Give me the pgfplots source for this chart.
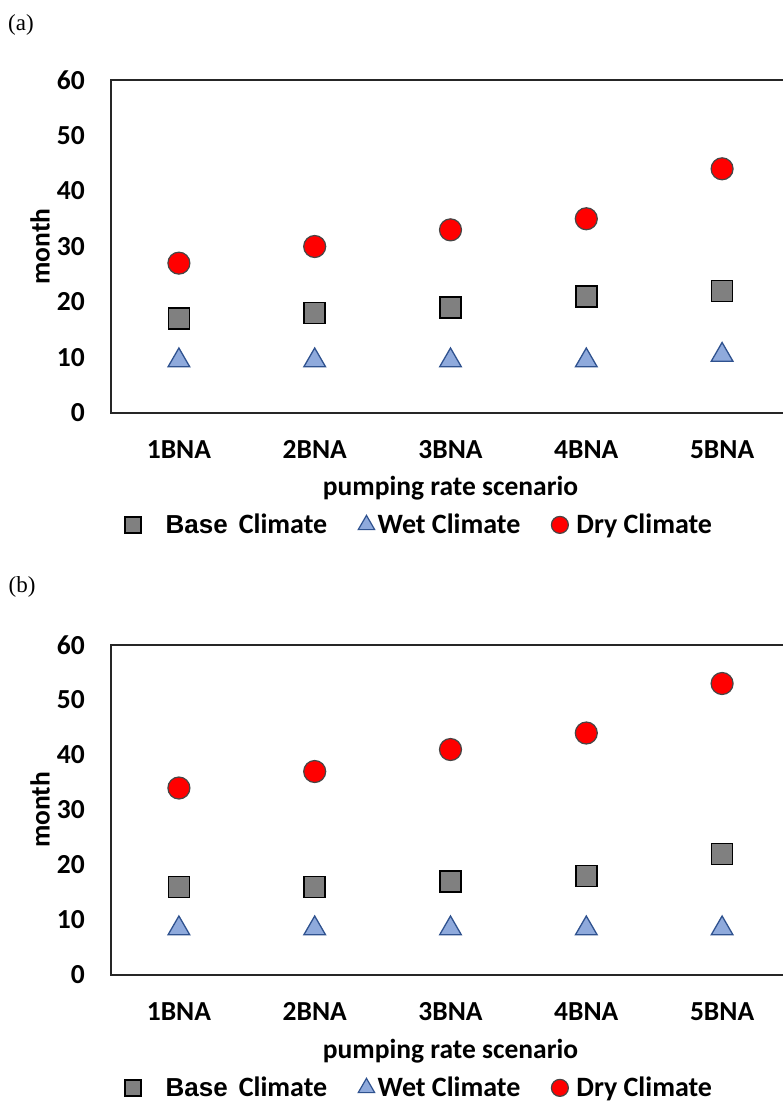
\documentclass[border=0pt]{standalone}
\usepackage{fontspec}
\setmainfont{Carlito}
\newfontfamily\arialfont{Liberation Sans}
\newfontfamily\timesfont{Liberation Serif}
\usepackage{pgfplots}
\pgfplotsset{compat=1.18}
\definecolor{dryfill}{RGB}{255,0,0}
\definecolor{dryedge}{RGB}{70,70,70}
\definecolor{basefill}{RGB}{128,128,128}
\definecolor{baseedge}{RGB}{0,0,0}
\definecolor{wetfill}{RGB}{143,170,220}
\definecolor{wetedge}{RGB}{47,82,143}
\pgfplotsset{
  myaxis/.style={
    scale only axis, width=679pt,
    xmin=0.5, xmax=5.5, ymin=0, ymax=60,
    xtick={1,2,3,4,5}, xticklabels={1BNA,2BNA,3BNA,4BNA,5BNA},
    ytick={0,10,...,60},
    major tick length=0pt,
    axis line style={line width=1.5pt, black!85},
    /pgf/number format/assume math mode=true,
    tick label style={font=\bfseries\fontsize{27.5}{32}\selectfont},
    yticklabel style={anchor=east, inner sep=0pt, xshift=-26pt},
    xticklabel style={anchor=base, inner sep=0pt, yshift=-45pt},
    label style={font=\bfseries\fontsize{27.5}{32}\selectfont},
    xlabel={pumping rate scenario},
    ylabel={month},
    ylabel style={at={(axis description cs:-0.1046,0.5)}, anchor=center},
    legend columns=3,
    legend style={anchor=west, draw=none, fill=none, inner sep=0pt,
      font=\bfseries\fontsize{28}{33}\selectfont,
      nodes={inner xsep=3pt},
      /tikz/every even column/.append style={column sep=28pt}},
    clip=false,
  },
  basemark/.style={only marks, mark=square*, mark options={fill=basefill, draw=baseedge, line width=1.6pt}},
  wetmark/.style={only marks, mark=triangle*, mark options={fill=wetfill, draw=wetedge, line width=1.2pt}},
  wetmarkplot/.style={only marks, mark=triangle*, mark options={fill=wetfill, draw=wetedge, line width=1.3pt, yshift=-3pt}},
  drymark/.style={only marks, mark=*, mark options={fill=dryfill, draw=dryedge, line width=1.2pt}},
}
\begin{document}
\begin{tikzpicture}[x=1pt,y=1pt]
\node[font=\timesfont\fontsize{23}{27}\selectfont] at (21,-25) {(a)};
\node[font=\timesfont\fontsize{23}{27}\selectfont] at (22,-587) {(b)};
\begin{axis}[myaxis, at={(111pt,-413pt)}, anchor=south west, height=333pt,
  xlabel style={at={(axis description cs:0.5,-0.225)}, anchor=center},
  legend style={at={(axis description cs:0.0199,-0.336)}}]
  \addlegendimage{basemark, mark size=8pt}
  \addlegendentry{\hspace*{22pt}{\arialfont\bfseries\fontsize{26}{31}\selectfont Base}\hspace{11pt}Climate}
  \addlegendimage{wetmark, mark size=9.5pt}
  \addlegendentry{Wet Climate}
  \addlegendimage{drymark, mark size=8.5pt}
  \addlegendentry{\hspace*{5pt}Dry Climate}
  \addplot[basemark, mark size=10.5pt, forget plot] coordinates {(1,17) (2,18) (3,19) (4,21) (5,22)};
  \addplot[wetmarkplot, mark size=12.5pt, forget plot] coordinates {(1,10) (2,10) (3,10) (4,10) (5,11)};
  \addplot[drymark, mark size=11pt, forget plot] coordinates {(1,27) (2,30) (3,33) (4,35) (5,44)};
\end{axis}
\begin{axis}[myaxis, at={(111pt,-975pt)}, anchor=south west, height=330pt,
  xlabel style={at={(axis description cs:0.5,-0.230)}, anchor=center},
  legend style={at={(axis description cs:0.0199,-0.342)}}]
  \addlegendimage{basemark, mark size=8pt}
  \addlegendentry{\hspace*{22pt}{\arialfont\bfseries\fontsize{26}{31}\selectfont Base}\hspace{11pt}Climate}
  \addlegendimage{wetmark, mark size=9.5pt}
  \addlegendentry{Wet Climate}
  \addlegendimage{drymark, mark size=8.5pt}
  \addlegendentry{\hspace*{5pt}Dry Climate}
  \addplot[basemark, mark size=10.5pt, forget plot] coordinates {(1,16) (2,16) (3,17) (4,18) (5,22)};
  \addplot[wetmarkplot, mark size=12.5pt, forget plot] coordinates {(1,9) (2,9) (3,9) (4,9) (5,9)};
  \addplot[drymark, mark size=11pt, forget plot] coordinates {(1,34) (2,37) (3,41) (4,44) (5,53)};
\end{axis}
\pgfresetboundingbox
\path[use as bounding box] (0,0) rectangle (782,-1105);
\end{tikzpicture}
\end{document}
